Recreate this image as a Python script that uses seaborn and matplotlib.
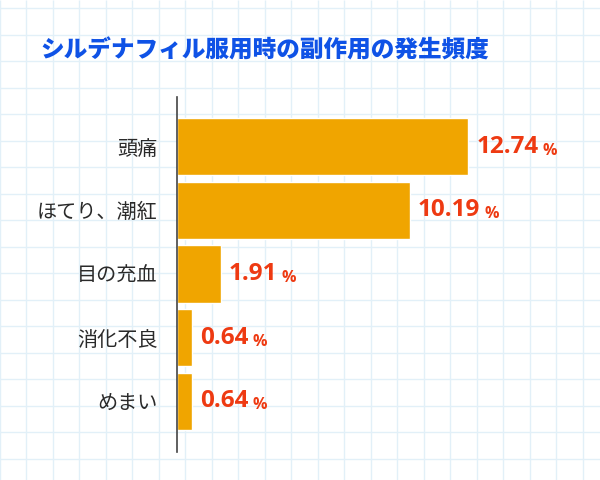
import pandas as pd
import numpy as np
import seaborn as sns
import matplotlib.pyplot as plt

# data
symptoms = ["頭痛", "ほてり、潮紅", "目の充血", "消化不良", "めまい"]
rates = [12.74, 10.19, 1.91, 0.64, 0.64]
title = "シルデナフィル服用時の副作用の発生頻度"

df = pd.DataFrame({"symptom": symptoms, "rate": rates})

sns.set_style("white")
plt.rcParams['font.family'] = ['Noto Sans CJK JP', 'DejaVu Sans']

bar_color = "#F0A500"
value_color = "#EE3A12"
title_color = "#0F52E6"
grid_color = "#E2F0F8"

fig = plt.figure(figsize=(6, 4.8), dpi=100)
fig.patch.set_facecolor('white')

# graph paper background
bg = fig.add_axes([0, 0, 1, 1], zorder=-1)
bg.set_xlim(0, 600)
bg.set_ylim(480, 0)
bg.vlines(np.arange(-0.5, 600, 26.5), 0, 480, color=grid_color, linewidth=1)
bg.hlines(np.arange(8, 480, 26.5), 0, 600, color=grid_color, linewidth=1)
bg.axis('off')

ax = fig.add_axes([0.295, 0.058, 0.685, 0.74])
ax.patch.set_alpha(0)

sns.barplot(data=df, x="rate", y="symptom", orient="h", color=bar_color,
            saturation=1, width=0.9, ax=ax)

ax.set_xlim(0, 18)
ax.set_ylim(4.8, -0.78)
ax.set_xlabel("")
ax.set_ylabel("")
ax.set_xticks([])
for s in ["top", "right", "bottom"]:
    ax.spines[s].set_visible(False)
ax.spines["left"].set_color("#444444")
ax.spines["left"].set_linewidth(1.2)
ax.tick_params(axis='y', length=0, pad=14, labelsize=14.5, labelcolor="#2a2a2a")

# value labels
for i, v in enumerate(rates):
    t = ax.annotate(f"{v:.2f}", xy=(v, i), xytext=(6, 0), textcoords='offset points',
                    va='center', ha='left', fontsize=17.5, fontweight='bold',
                    color=value_color, family=['Open Sans', 'DejaVu Sans'])
    ax.annotate("%", xy=(1, 0), xycoords=t, xytext=(3, 0), textcoords='offset points',
                va='bottom', ha='left', fontsize=11.5, fontweight='bold',
                color=value_color, family=['Open Sans', 'DejaVu Sans'])

fig.text(40 / 600, 1 - 50 / 480, title, ha='left', va='center', fontsize=17,
         fontweight='black', color=title_color)

fig.savefig("out.png", dpi=100)
